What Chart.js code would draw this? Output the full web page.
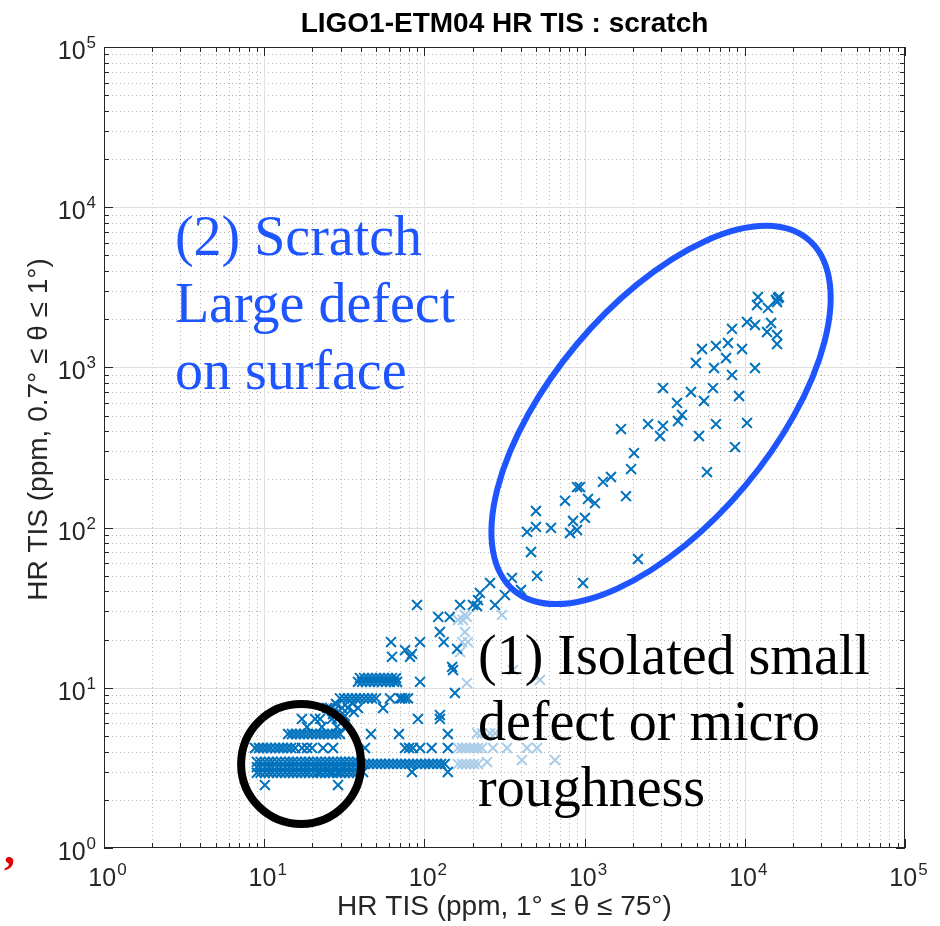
<!DOCTYPE html>
<html>
<head>
<meta charset="utf-8">
<script src="https://cdn.jsdelivr.net/npm/chart.js@4.4.1/dist/chart.umd.min.js"></script>
<style>
  html, body { margin: 0; padding: 0; background: #fff; }
  canvas { display: block; }
</style>
</head>
<body>
<canvas id="c" width="940" height="926"></canvas>
<script>
// ---- data ----
// dark series, quantised rows: one y level and the x values on it
var darkRowY = [2.47, 2.98, 2.95, 3.2, 3.45, 3.35, 4.21, 5.15, 5.69, 6.39, 7.48, 8.6, 10.9, 11.5];
var bandLeftX = [9, 9.5, 10.1, 10.7, 11.3, 12, 12.7, 13.5, 14.3, 15.1, 16, 17, 18, 19, 20.2, 21.4, 22.6, 24, 25.4, 26.9, 28.5, 30.2, 31.9, 33.8, 35.8, 37.9];
var bandRightX = [40.2, 42.6, 45.1, 47.8, 50.6, 53.6, 56.8, 60.1, 63.7, 67.5, 71.4, 75.7, 80.2, 84.9, 89.9, 95.3, 101, 107, 113, 120, 127, 134];
var darkRowX = [
	[10.1, 28.9],
	[22.3, 25.8, 29.7, 41.4, 83.7, 140],
	bandLeftX,
	bandLeftX,
	bandLeftX,
	bandRightX,
	[8.76, 9.28, 9.83, 10.4, 11, 11.7, 12.4, 13.1, 13.9, 14.7, 15.6, 17.2, 18.5, 19.9, 23.3, 26.9, 42.6, 75.7, 80.2, 84.9, 94, 111, 140],
	[14.1, 14.9, 15.8, 16.7, 17.7, 18.8, 19.9, 21.1, 22.3, 23.6, 25, 26.5, 28.1, 29.7, 46.4, 69.4, 140],
	[18.5, 22.9, 28.5, 31.9],
	[17.2, 20.8, 22.3, 26.5, 28.5, 91.2, 125],
	[24.7, 25.8, 30.6, 33.3, 38.5, 55.2],
	[29.7, 31.5, 33.3, 35.3, 37.4, 39.6, 42, 44.5, 47.1, 49.9, 61, 70.4, 72.4, 75.7, 79],
	[38.5, 40.8, 43.2, 45.7, 48.4, 51.3, 54.4, 57.6, 61, 64.6, 67.5, 94],
	[39.6, 42, 44.5, 47.1, 49.9, 52.8, 56, 59.3, 62.8, 66.5]
];
// dark series, scattered points
var darkX = [16100, 15670, 16340, 15890, 12090, 11920, 13960, 10320, 11580, 14580, 13770, 15890, 15890,
	8318, 7852, 6607, 5408, 9610, 7638, 4955, 6427, 11580, 8318, 3083, 4613, 6324, 3776, 5559, 9204,
	4055, 3828, 6607, 10320, 2489, 3083, 1687, 2958, 5176, 8690, 2033, 1950, 1462, 1303, 5808, 1813,
	897, 936, 755, 1050, 1161, 497, 497, 437, 617, 847, 1005, 897, 811, 463, 505, 352, 2153, 977,
	401, 318, 257, 222, 216, 167, 201, 213, 276, 89.9, 122, 144, 125, 132, 61.9, 94, 62.8, 75.7,
	83.7, 81.3, 160, 149, 151, 155, 125, 28.1, 36.3, 26.9, 31.9, 35.3, 28.9, 27.5];
var darkY = [2710, 2635, 2750, 2560, 2750, 2453, 2350, 1920, 1840, 1893, 1663, 1593, 1400,
	1738, 1420, 1361, 1303, 1303, 1145, 1065, 991, 991, 897, 743, 702, 743, 600, 617, 663,
	505, 463, 443, 450, 443, 431, 412, 373, 373, 318, 292, 232, 207, 193, 222, 157,
	179, 179, 147, 151, 142, 127, 101, 94, 99.5, 110, 115, 96.6, 92.5, 70.4, 49.9, 48.5, 63.7, 45.1,
	40.8, 37.9, 45.1, 39.1, 35.3, 32.9, 32.9, 32.4, 32.9, 32.9, 27.7, 27.7, 22.3, 19.3, 19.3, 19.3, 15.6, 17.2,
	16.3, 15.6, 17.5, 13.5, 12.9, 9.28, 6.76, 7.92, 7.06, 6.86, 6.67, 8.04, 6.48, 7.3];
// light series
var lightRowY = [3.34, 4.21, 5.2];
var lightRowX = [
	[162, 172, 182, 193, 204, 216],
	[162, 172, 182, 193, 204, 216, 229, 268, 328, 437, 505],
	[213, 229, 257, 276]
];
var lightX = [246, 406, 653, 162, 179, 184, 179, 172, 187, 167, 357, 527, 184, 305, 174];
var lightY = [3.44, 3.54, 3.54, 26.5, 28.5, 27.7, 22.3, 19.3, 19.3, 16.7, 12.9, 11.2, 10.7, 28.5, 26.5];

// axes
var decades = [0, 1, 2, 3, 4, 5];
var minorSteps = [2, 3, 4, 5, 6, 7, 8, 9];
var tickBase = '10';

var titleText = 'LIGO1-ETM04 HR TIS : scratch';
var xTitle = 'HR TIS (ppm, 1\u00b0 \u2264 \u03b8 \u2264 75\u00b0)';
var yTitle = 'HR TIS (ppm, 0.7\u00b0 \u2264 \u03b8 \u2264 1\u00b0)';

// notes drawn over the plot (anchors in data units)
var noteBlue = ['(2) Scratch', 'Large defect', 'on surface'];
var noteBlueAt = [2.77, 5035];
var noteBlack = ['(1) Isolated small', 'defect or micro', 'roughness'];
var noteBlackAt = [216, 12.2];
var ellipseAt = [3000, 505];
var circleAt = [17, 3.345];

var darkColor = '#0072BD';
var lightColor = '#A9CCE8';
var noteBlueColor = '#1F55FF';

function buildPoints(rowY, rowX, xs, ys) {
	var pts = [];
	for (var i = 0; i < rowY.length; i++) {
		for (var j = 0; j < rowX[i].length; j++) {
			pts.push({ x: rowX[i][j], y: rowY[i] });
		}
	}
	for (var k = 0; k < xs.length; k++) {
		pts.push({ x: xs[k], y: ys[k] });
	}
	return pts;
}

var axisInk = '#262626';
var sans = '"Liberation Sans", Arial, sans-serif';

function drawPow(ctx, x, y, exp, mode) {
	ctx.font = '25px ' + sans;
	var w1 = ctx.measureText(tickBase).width;
	ctx.font = '17px ' + sans;
	var w2 = ctx.measureText(String(exp)).width;
	var left = mode == 'center' ? x - (w1 + w2) / 2 : x - w1 - w2;
	ctx.textAlign = 'left';
	ctx.textBaseline = 'alphabetic';
	ctx.font = '25px ' + sans;
	ctx.fillText(tickBase, left, y);
	ctx.font = '17px ' + sans;
	ctx.fillText(String(exp), left + w1 + 1, y - 11);
}

var overlay = {
	id: 'overlay',
	beforeDatasetsDraw: function(chart) {
		var ctx = chart.ctx, a = chart.chartArea;
		var xs = chart.scales.x, ys = chart.scales.y;
		ctx.save();
		// minor grid, dotted
		ctx.strokeStyle = 'rgba(0,0,0,0.28)';
		ctx.lineWidth = 1;
		ctx.setLineDash([1, 3]);
		for (var d = 0; d < decades.length - 1; d++) {
			for (var m = 0; m < minorSteps.length; m++) {
				var v = minorSteps[m] * Math.pow(10, decades[d]);
				var px = Math.round(xs.getPixelForValue(v)) + 0.5;
				var py = Math.round(ys.getPixelForValue(v)) + 0.5;
				ctx.beginPath();
				ctx.moveTo(px, a.top); ctx.lineTo(px, a.bottom);
				ctx.moveTo(a.left, py); ctx.lineTo(a.right, py);
				ctx.stroke();
			}
		}
		// major grid
		ctx.setLineDash([]);
		ctx.strokeStyle = '#dedede';
		for (var i = 1; i < decades.length - 1; i++) {
			var val = Math.pow(10, decades[i]);
			var gx = Math.round(xs.getPixelForValue(val)) + 0.5;
			var gy = Math.round(ys.getPixelForValue(val)) + 0.5;
			ctx.beginPath();
			ctx.moveTo(gx, a.top); ctx.lineTo(gx, a.bottom);
			ctx.moveTo(a.left, gy); ctx.lineTo(a.right, gy);
			ctx.stroke();
		}
		ctx.restore();
	},
	afterDatasetsDraw: function(chart) {
		var ctx = chart.ctx, a = chart.chartArea;
		var xs = chart.scales.x, ys = chart.scales.y;
		ctx.save();
		// box + inward ticks on all sides
		ctx.strokeStyle = axisInk;
		ctx.lineWidth = 1;
		ctx.strokeRect(a.left + 0.5, a.top + 0.5, a.right - a.left - 1, a.bottom - a.top - 1);
		ctx.beginPath();
		for (var d = 0; d < decades.length; d++) {
			var steps = d < decades.length - 1 ? [1].concat(minorSteps) : [1];
			for (var m = 0; m < steps.length; m++) {
				var v = steps[m] * Math.pow(10, decades[d]);
				var len = steps[m] == 1 ? 9 : 5;
				var px = Math.round(xs.getPixelForValue(v)) + 0.5;
				var py = Math.round(ys.getPixelForValue(v)) + 0.5;
				ctx.moveTo(px, a.bottom); ctx.lineTo(px, a.bottom - len);
				ctx.moveTo(px, a.top); ctx.lineTo(px, a.top + len);
				ctx.moveTo(a.left, py); ctx.lineTo(a.left + len, py);
				ctx.moveTo(a.right, py); ctx.lineTo(a.right - len, py);
			}
		}
		ctx.stroke();

		// tick labels
		ctx.fillStyle = axisInk;
		for (var i = 0; i < decades.length; i++) {
			var val = Math.pow(10, decades[i]);
			drawPow(ctx, xs.getPixelForValue(val) + 3, a.bottom + 38, decades[i], 'center');
			drawPow(ctx, a.left - 9, ys.getPixelForValue(val) + 12, decades[i], 'right');
		}

		// axis titles
		ctx.font = '28px ' + sans;
		ctx.textAlign = 'center';
		ctx.textBaseline = 'alphabetic';
		ctx.fillText(xTitle, (a.left + a.right) / 2, 915);
		ctx.save();
		ctx.translate(47, (a.top + a.bottom) / 2 - 18);
		ctx.rotate(-Math.PI / 2);
		ctx.fillText(yTitle, 0, 0);
		ctx.restore();

		// title
		ctx.fillStyle = '#000';
		ctx.font = 'bold 28px ' + sans;
		ctx.fillText(titleText, (a.left + a.right) / 2, 32);

		// ellipse round the scratch cloud
		ctx.strokeStyle = noteBlueColor;
		ctx.lineWidth = 6;
		ctx.beginPath();
		ctx.ellipse(xs.getPixelForValue(ellipseAt[0]), ys.getPixelForValue(ellipseAt[1]), 229, 110, -50 * Math.PI / 180, 0, Math.PI * 2);
		ctx.stroke();

		// circle round the small defects
		ctx.strokeStyle = '#000';
		ctx.lineWidth = 8;
		ctx.beginPath();
		ctx.arc(xs.getPixelForValue(circleAt[0]), ys.getPixelForValue(circleAt[1]), 60, 0, Math.PI * 2);
		ctx.stroke();

		// notes
		ctx.textAlign = 'left';
		ctx.font = '56px "Liberation Serif", "Times New Roman", serif';
		ctx.fillStyle = noteBlueColor;
		var bx = xs.getPixelForValue(noteBlueAt[0]), by = ys.getPixelForValue(noteBlueAt[1]);
		for (var j = 0; j < noteBlue.length; j++) {
			ctx.fillText(noteBlue[j], bx, by + j * 67);
		}
		ctx.fillStyle = '#000';
		var kx = xs.getPixelForValue(noteBlackAt[0]), ky = ys.getPixelForValue(noteBlackAt[1]);
		for (var k = 0; k < noteBlack.length; k++) {
			ctx.fillText(noteBlack[k], kx, ky + k * 66);
		}

		// stray red mark at bottom left
		ctx.fillStyle = '#E00000';
		ctx.font = 'bold 44px "Liberation Serif", serif';
		ctx.fillText(',', 4, 864);
		ctx.restore();
	}
};

var chart = new Chart(document.getElementById('c'), {
	type: 'scatter',
	data: {
		datasets: [
			{
				label: 'HR TIS',
				data: buildPoints(darkRowY, darkRowX, darkX, darkY),
				pointStyle: 'crossRot',
				pointRadius: 7,
				borderColor: darkColor,
				backgroundColor: darkColor,
				borderWidth: 2
			},
			{
				label: 'HR TIS (light)',
				data: buildPoints(lightRowY, lightRowX, lightX, lightY),
				pointStyle: 'crossRot',
				pointRadius: 7,
				borderColor: lightColor,
				backgroundColor: lightColor,
				borderWidth: 2
			}
		]
	},
	options: {
		responsive: false,
		devicePixelRatio: 1,
		animation: false,
		layout: { padding: { left: 0, right: 35, top: 47, bottom: 0 } },
		plugins: { legend: { display: false }, tooltip: { enabled: false }, title: { display: false } },
		scales: {
			x: {
				type: 'logarithmic', min: 1, max: 100000, position: 'bottom',
				ticks: { display: false }, grid: { display: false }, border: { display: false },
				afterFit: function(s) { s.height = 78; }
			},
			y: {
				type: 'logarithmic', min: 1, max: 100000, position: 'left',
				ticks: { display: false }, grid: { display: false }, border: { display: false },
				afterFit: function(s) { s.width = 104; }
			}
		}
	},
	plugins: [overlay]
});
</script>
</body>
</html>
